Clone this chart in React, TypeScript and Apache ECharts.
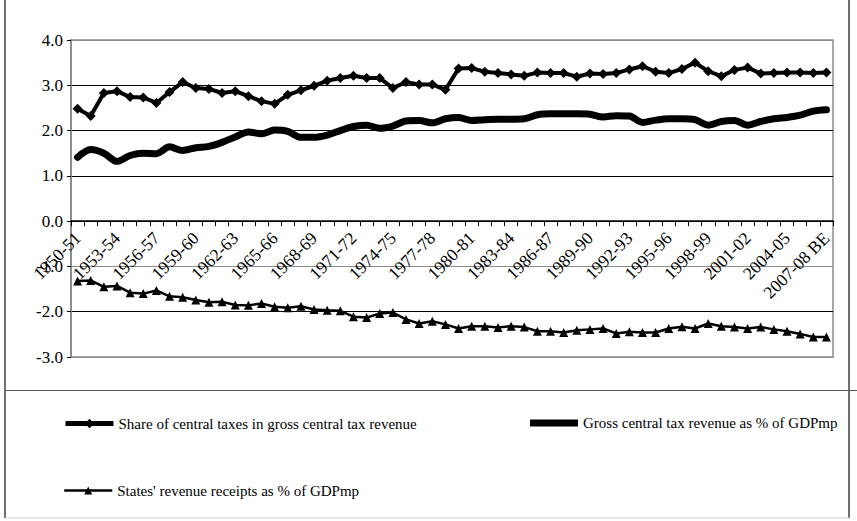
import React, { useEffect, useRef } from "react";
import * as echarts from "echarts";

const categories = [
  "1950-51", "1951-52", "1952-53", "1953-54", "1954-55", "1955-56", "1956-57", "1957-58",
  "1958-59", "1959-60", "1960-61", "1961-62", "1962-63", "1963-64", "1964-65", "1965-66",
  "1966-67", "1967-68", "1968-69", "1969-70", "1970-71", "1971-72", "1972-73", "1973-74",
  "1974-75", "1975-76", "1976-77", "1977-78", "1978-79", "1979-80", "1980-81", "1981-82",
  "1982-83", "1983-84", "1984-85", "1985-86", "1986-87", "1987-88", "1988-89", "1989-90",
  "1990-91", "1991-92", "1992-93", "1993-94", "1994-95", "1995-96", "1996-97", "1997-98",
  "1998-99", "1999-00", "2000-01", "2001-02", "2002-03", "2003-04", "2004-05", "2005-06",
  "2006-07", "2007-08 BE",
];

const centralShare = [
  2.48, 2.32, 2.83, 2.87, 2.74, 2.73, 2.61, 2.85, 3.07, 2.94,
  2.92, 2.83, 2.87, 2.76, 2.65, 2.59, 2.79, 2.89, 2.99, 3.10,
  3.16, 3.21, 3.16, 3.16, 2.94, 3.07, 3.02, 3.02, 2.90, 3.37,
  3.38, 3.30, 3.27, 3.24, 3.21, 3.28, 3.27, 3.27, 3.19, 3.26,
  3.25, 3.27, 3.35, 3.42, 3.30, 3.27, 3.36, 3.50, 3.31, 3.20,
  3.34, 3.39, 3.26, 3.27, 3.28, 3.28, 3.27, 3.28,
];

const grossRevenue = [
  1.41, 1.58, 1.50, 1.32, 1.45, 1.50, 1.49, 1.64, 1.56, 1.62,
  1.65, 1.74, 1.86, 1.97, 1.93, 2.01, 1.98, 1.85, 1.85, 1.90,
  2.00, 2.09, 2.12, 2.05, 2.10, 2.21, 2.22, 2.17, 2.26, 2.29,
  2.22, 2.24, 2.25, 2.25, 2.26, 2.35, 2.37, 2.37, 2.37, 2.36,
  2.30, 2.33, 2.32, 2.18, 2.23, 2.26, 2.26, 2.24, 2.12, 2.20,
  2.22, 2.12, 2.20, 2.26, 2.29, 2.34, 2.43, 2.46,
];

const statesReceipts = [
  -1.32, -1.31, -1.45, -1.43, -1.58, -1.60, -1.53, -1.66, -1.68, -1.74,
  -1.79, -1.78, -1.85, -1.86, -1.82, -1.89, -1.91, -1.88, -1.95, -1.97,
  -1.98, -2.11, -2.13, -2.04, -2.02, -2.17, -2.26, -2.21, -2.28, -2.37,
  -2.32, -2.32, -2.35, -2.32, -2.34, -2.43, -2.43, -2.46, -2.41, -2.39,
  -2.37, -2.48, -2.44, -2.46, -2.46, -2.37, -2.33, -2.37, -2.26, -2.32,
  -2.34, -2.37, -2.34, -2.39, -2.43, -2.49, -2.56, -2.56,
];

const seriesNames = [
  "Share of central taxes in gross central tax revenue",
  "Gross central tax revenue as % of GDPmp",
  "States' revenue receipts as % of GDPmp",
];

const Y_MIN = -3;
const Y_MAX = 4;

const FONT = "'Liberation Serif', 'Times New Roman', serif";

// plot-area geometry (px)
const GRID_TOP = 40;
const GRID_BOTTOM = 164;
const CHART_H = 521;

export default function App() {
  const ref = useRef<HTMLDivElement>(null);

  useEffect(() => {
    if (!ref.current) return;
    const chart = echarts.init(ref.current, null, { renderer: "svg" });

    // the category axis sits on the zero line: shift it up from the grid bottom
    const plotH = CHART_H - GRID_TOP - GRID_BOTTOM;
    const zeroOffset = -(plotH * (0 - Y_MIN)) / (Y_MAX - Y_MIN);

    const legendText = { fontFamily: FONT, fontSize: 15, color: "#000" };

    chart.setOption({
      animation: false,
      backgroundColor: "#fff",
      textStyle: { fontFamily: FONT },
      grid: {
        left: 71,
        right: 24,
        top: GRID_TOP,
        bottom: GRID_BOTTOM,
        show: true,
        borderColor: "#8c8c8c",
        borderWidth: 1.5,
      },
      legend: [
        {
          data: [seriesNames[0]],
          left: 63,
          top: 416,
          padding: 0,
          itemWidth: 48,
          itemHeight: 12,
          lineStyle: { width: 5 },
          textStyle: legendText,
        },
        {
          data: [{ name: seriesNames[1], icon: "rect" }],
          left: 530,
          top: 415.5,
          padding: 0,
          itemWidth: 48,
          itemHeight: 7,
          textStyle: legendText,
        },
        {
          data: [seriesNames[2]],
          left: 63,
          top: 483,
          padding: 0,
          itemWidth: 48,
          itemHeight: 10,
          lineStyle: { width: 2.5 },
          textStyle: legendText,
        },
      ],
      xAxis: {
        type: "category",
        data: categories,
        boundaryGap: true,
        position: "bottom",
        offset: zeroOffset,
        axisLine: { onZero: false, lineStyle: { color: "#000", width: 1.5 } },
        axisTick: { show: true, interval: 0, length: 5, lineStyle: { color: "#000" } },
        axisLabel: {
          interval: 2,
          rotate: 45,
          margin: 14,
          fontFamily: FONT,
          fontSize: 17.5,
          color: "#000",
        },
        splitLine: { show: false },
      },
      yAxis: {
        type: "value",
        min: Y_MIN,
        max: Y_MAX,
        interval: 1,
        axisLine: { show: true, lineStyle: { color: "#8c8c8c", width: 2 } },
        axisTick: { show: true, length: 4, lineStyle: { color: "#000" } },
        axisLabel: {
          margin: 8,
          fontFamily: FONT,
          fontSize: 17,
          color: "#000",
          formatter: (v: number) => v.toFixed(1),
        },
        splitLine: {
          show: true,
          lineStyle: {
            color: ["#8c8c8c", "#000", "#8c8c8c", "#000", "#000", "#000", "#000", "#8c8c8c"],
            width: 1,
          },
        },
      },
      series: [
        {
          name: seriesNames[0],
          type: "line",
          data: centralShare,
          symbol: "diamond",
          symbolSize: 10,
          showAllSymbol: true,
          lineStyle: { color: "#000", width: 4 },
          itemStyle: { color: "#000" },
          z: 3,
        },
        {
          name: seriesNames[1],
          type: "line",
          data: grossRevenue,
          showSymbol: false,
          symbol: "none",
          smooth: 0.3,
          lineStyle: { color: "#000", width: 7, cap: "round", join: "round" },
          itemStyle: { color: "#000" },
          z: 2,
        },
        {
          name: seriesNames[2],
          type: "line",
          data: statesReceipts,
          symbol: "triangle",
          symbolSize: 9,
          showAllSymbol: true,
          lineStyle: { color: "#000", width: 2.5 },
          itemStyle: { color: "#000" },
          z: 3,
        },
      ],
      graphic: [
        { type: "line", shape: { x1: 5, y1: 0, x2: 5, y2: 518 }, style: { stroke: "#404040", lineWidth: 1.5 } },
        { type: "line", shape: { x1: 849, y1: 0, x2: 849, y2: 518 }, style: { stroke: "#404040", lineWidth: 1.5 } },
        { type: "line", shape: { x1: 5, y1: 390.5, x2: 857, y2: 390.5 }, style: { stroke: "#555", lineWidth: 1.2 } },
        { type: "line", shape: { x1: 5, y1: 518, x2: 849, y2: 518 }, style: { stroke: "#d0d0d0", lineWidth: 1 } },
      ],
    });

    return () => chart.dispose();
  }, []);

  return (
    <div
      ref={ref}
      style={{ position: "fixed", left: 0, top: 0, width: 857, height: 521 }}
    />
  );
}
